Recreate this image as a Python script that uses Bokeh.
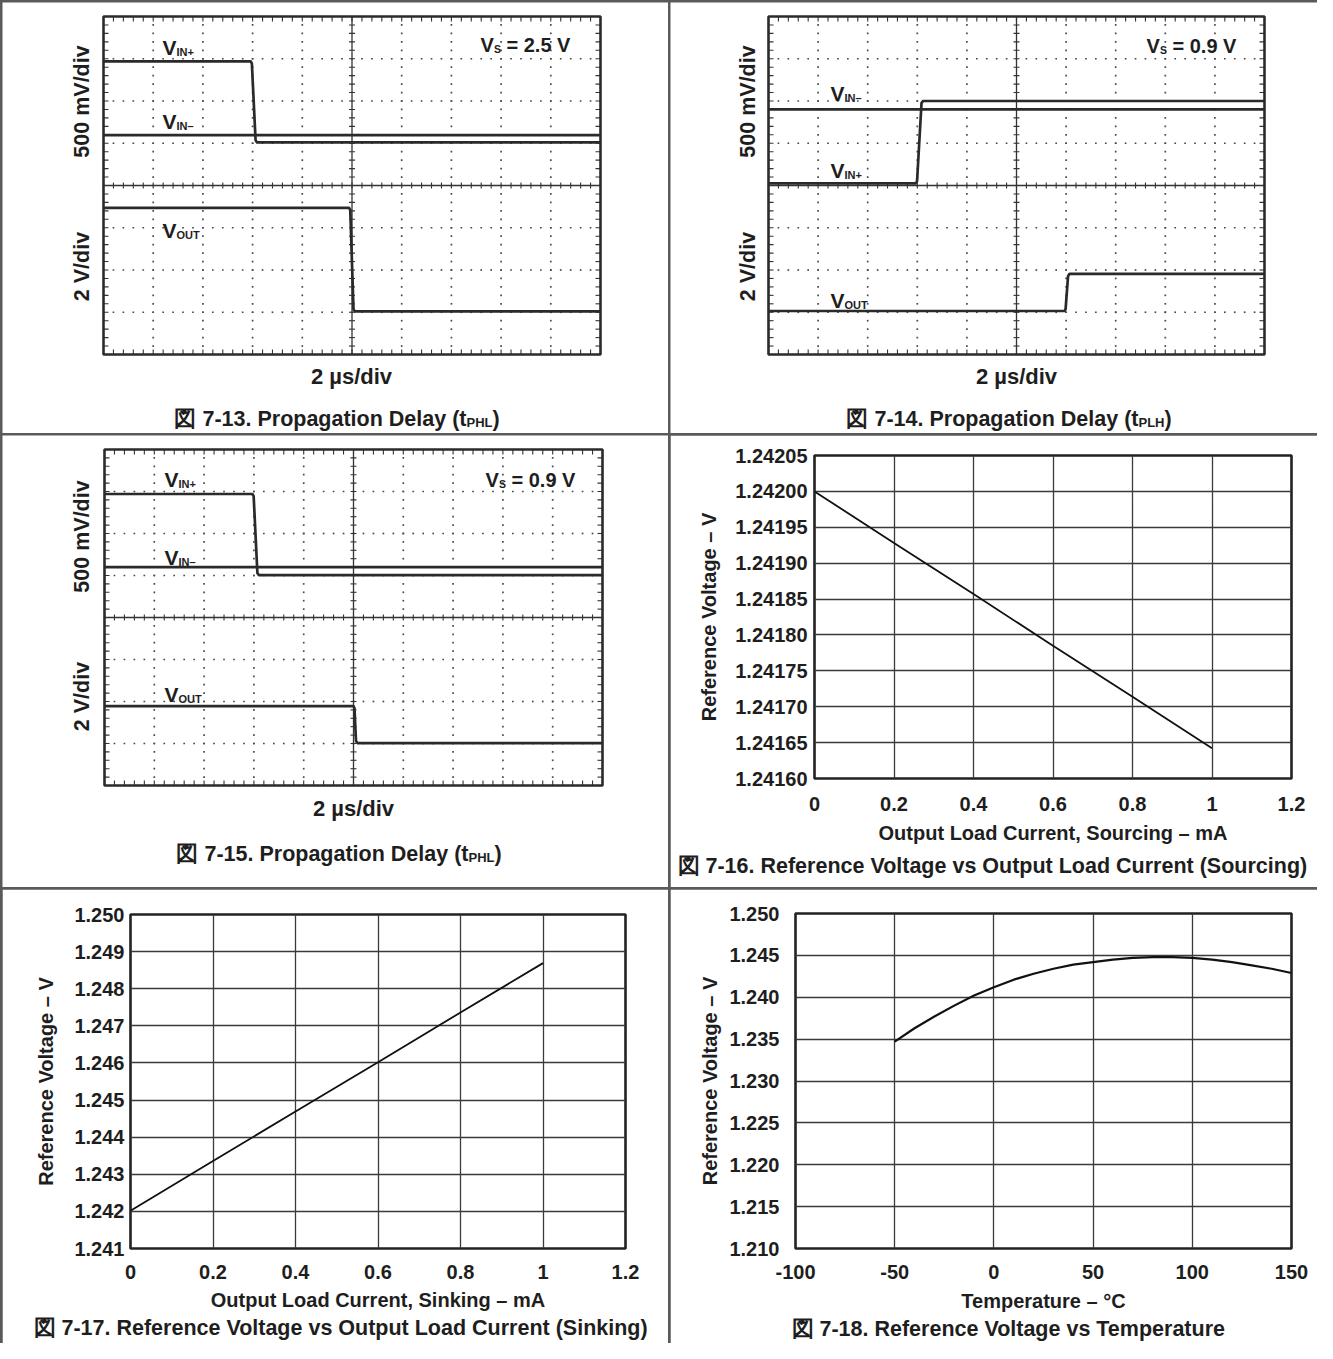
import math
from bokeh.plotting import figure
from bokeh.models import Range1d, FixedTicker, Label, Title
from bokeh.layouts import row, column
from bokeh.embed import file_html
from bokeh.resources import INLINE

FONT = "Liberation Sans"
INK = "#1e1e1e"
TRACE = "#2a2a2a"
GRAT = "#333333"

# ===================== DATA =====================
# Oscilloscope captures: time in µs (2 µs/div, 10 div); level in screen divisions (8 div, centre line = 0)
scope_time_ticks = [0, 2, 4, 6, 8, 10, 12, 14, 16, 18, 20]
scope_div_ticks = [-4, -3, -2, -1, 0, 1, 2, 3, 4]

f13_vinp_t = [0.0, 5.92, 5.97, 6.12, 6.18, 20.0]
f13_vinp_d = [2.94, 2.94, 2.89, 1.07, 1.02, 1.02]
f13_vinn_t = [0.0, 20.0]
f13_vinn_d = [1.19, 1.19]
f13_vout_t = [0.0, 9.88, 9.93, 10.06, 10.12, 20.0]
f13_vout_d = [-0.53, -0.53, -0.58, -2.93, -2.98, -2.98]

f14_vinp_t = [0.0, 5.94, 5.99, 6.17, 6.23, 20.0]
f14_vinp_d = [0.05, 0.05, 0.10, 1.95, 2.00, 2.00]
f14_vinn_t = [0.0, 20.0]
f14_vinn_d = [1.80, 1.80]
f14_vout_t = [0.0, 11.94, 11.98, 12.08, 12.14, 20.0]
f14_vout_d = [-2.97, -2.97, -2.92, -2.14, -2.09, -2.09]

f15_vinp_t = [0.0, 5.94, 5.99, 6.14, 6.20, 20.0]
f15_vinp_d = [2.94, 2.94, 2.89, 1.06, 1.01, 1.01]
f15_vinn_t = [0.0, 20.0]
f15_vinn_d = [1.20, 1.20]
f15_vout_t = [0.0, 10.00, 10.04, 10.10, 10.16, 20.0]
f15_vout_d = [-2.11, -2.11, -2.16, -2.94, -2.99, -2.99]

# Reference voltage vs load current (sourcing / sinking) and vs temperature
src_current_ma = [0.0, 0.2, 0.4, 0.6, 0.8, 1.0]
src_vref = [1.24200, 1.241928, 1.241857, 1.241785, 1.241714, 1.241642]
snk_current_ma = [0.0, 0.2, 0.4, 0.6, 0.8, 1.0]
snk_vref = [1.24202, 1.24336, 1.24469, 1.24602, 1.24736, 1.24869]
temp_c = [-50, -40, -30, -20, -10, 0, 10, 20, 30, 40, 50, 60, 70, 80, 90, 100, 110, 120, 130, 140, 150]
temp_vref = [1.2347, 1.2363, 1.2377, 1.2390, 1.2402, 1.2412, 1.2421, 1.2428, 1.2434, 1.2439, 1.2442,
             1.2445, 1.2447, 1.2448, 1.2448, 1.2447, 1.2445, 1.2442, 1.2438, 1.2434, 1.2429]

cur_ticks = [0.0, 0.2, 0.4, 0.6, 0.8, 1.0, 1.2]
cur_tick_labels = ["0", "0.2", "0.4", "0.6", "0.8", "1", "1.2"]
src_v_ticks = [1.24160, 1.24165, 1.24170, 1.24175, 1.24180, 1.24185, 1.24190, 1.24195, 1.24200, 1.24205]
src_v_tick_labels = ["1.24160", "1.24165", "1.24170", "1.24175", "1.24180", "1.24185", "1.24190",
                     "1.24195", "1.24200", "1.24205"]
snk_v_ticks = [1.241, 1.242, 1.243, 1.244, 1.245, 1.246, 1.247, 1.248, 1.249, 1.250]
snk_v_tick_labels = ["1.241", "1.242", "1.243", "1.244", "1.245", "1.246", "1.247", "1.248", "1.249", "1.250"]
temp_ticks = [-100, -50, 0, 50, 100, 150]
temp_tick_labels = ["-100", "-50", "0", "50", "100", "150"]
tv_ticks = [1.210, 1.215, 1.220, 1.225, 1.230, 1.235, 1.240, 1.245, 1.250]
tv_tick_labels = ["1.210", "1.215", "1.220", "1.225", "1.230", "1.235", "1.240", "1.245", "1.250"]


# ===================== HELPERS =====================
def txt(p, gx, gy, px, py, s, size, align="left", baseline="alphabetic", angle=0.0):
    p.add_layout(Label(x=gx(px), y=gy(py), text=s, text_font=FONT, text_font_size=size,
                       text_font_style="bold", text_color=INK, text_align=align,
                       text_baseline=baseline, angle=angle))


def scope_cell(origin, size, frame):
    """A scope screenshot cell: the graticule spans 0..20 µs and -4..4 div."""
    ox, oy = origin
    w, h = size
    fx0, fy0, fx1, fy1 = frame
    t0, t1 = scope_time_ticks[0], scope_time_ticks[-1]
    d0, d1 = scope_div_ticks[0], scope_div_ticks[-1]
    ux = (t1 - t0) / (fx1 - fx0)
    uy = (d1 - d0) / (fy1 - fy0)

    def gx(px):
        return t0 + (px - fx0) * ux

    def gy(py):
        return d1 - (py - fy0) * uy

    p = figure(width=w, height=h, x_range=Range1d(gx(ox), gx(ox + w)),
               y_range=Range1d(gy(oy + h), gy(oy)),
               x_axis_type=None, y_axis_type=None, output_backend="svg", toolbar_location=None,
               min_border=0, min_border_left=0, min_border_right=0, min_border_top=0,
               min_border_bottom=0)
    p.outline_line_color = None

    minor_t = [round(t0 + i * 0.4, 3) for i in range(51)]
    minor_d = [round(d0 + i * 0.2, 3) for i in range(41)]
    # dotted graticule
    dx, dy = [], []
    for t in scope_time_ticks[1:-1]:
        if t == 10:
            continue
        for d in minor_d[1:-1]:
            dx.append(t)
            dy.append(d)
    for d in scope_div_ticks[1:-1]:
        if d == 0:
            continue
        for t in minor_t[1:-1]:
            dx.append(t)
            dy.append(d)
    p.scatter(dx, dy, marker="square", size=1.7, fill_color="#4a4a4a", line_color=None)
    # edge ticks (5 px inwards)
    tl_x, tl_y = 5 * ux, 5 * uy
    sx0, sy0, sx1, sy1 = [], [], [], []
    for t in minor_t:
        sx0 += [t, t]
        sx1 += [t, t]
        sy0 += [d0, d1]
        sy1 += [d0 + tl_y, d1 - tl_y]
    for d in minor_d:
        sx0 += [t0, t1]
        sx1 += [t0 + tl_x, t1 - tl_x]
        sy0 += [d, d]
        sy1 += [d, d]
    p.segment(sx0, sy0, sx1, sy1, line_color=GRAT, line_width=1.1)
    # centre cross with ticks
    p.segment([t0, 10], [0, d0], [t1, 10], [0, d1], line_color=GRAT, line_width=1.3)
    p.scatter(minor_t, [0] * len(minor_t), marker="dash", size=6, angle=math.pi / 2,
              line_color=GRAT, line_width=1.1)
    p.scatter([10] * len(minor_d), minor_d, marker="dash", size=6, angle=0,
              line_color=GRAT, line_width=1.1)
    # screen frame
    p.quad(left=[t0], right=[t1], bottom=[d0], top=[d1], fill_color=None,
           line_color="#2b2b2b", line_width=2.6)
    return p, gx, gy


def trace(p, t, d):
    p.line(t, d, line_color=TRACE, line_width=2.7, line_join="round")


def vlabel(p, gx, gy, x, y, sub):
    txt(p, gx, gy, x, y, "V", "21px")
    txt(p, gx, gy, x + 14, y + 4, sub, "11px")


def vs_label(p, gx, gy, x, y, val):
    txt(p, gx, gy, x, y, "V", "20px")
    txt(p, gx, gy, x + 13.5, y + 4, "S", "10.5px")
    txt(p, gx, gy, x + 26, y, val, "20px")


def scope_axes_text(p, gx, gy, xl, y_up, y_dn, cx, cy):
    txt(p, gx, gy, xl, y_up, "500 mV/div", "21.5px", align="center", baseline="middle", angle=math.pi / 2)
    txt(p, gx, gy, xl, y_dn, "2 V/div", "21.5px", align="center", baseline="middle", angle=math.pi / 2)
    txt(p, gx, gy, cx, cy, "2 µs/div", "22px", align="center", baseline="middle")


def caption_sub(p, gx, gy, main, sub, sub_x, close_x, base_y):
    txt(p, gx, gy, sub_x, base_y, main, "21.5px", align="right")
    txt(p, gx, gy, sub_x, base_y + 4, sub, "13px")
    txt(p, gx, gy, close_x, base_y, ")", "21.5px")


def line_cell(origin, size, frame, xr, yr, xt, xtl, yt, ytl, xlab, ylab,
              xstand, ystand, xlstand, ylstand, xs, ys, lw, cap, cap_left, cap_standoff):
    ox, oy = origin
    w, h = size
    fx0, fy0, fx1, fy1 = frame
    p = figure(width=w, height=h, x_range=Range1d(*xr), y_range=Range1d(*yr),
               output_backend="svg", toolbar_location=None,
               min_border_left=int(fx0 - ox), min_border_right=int(w - (fx1 - ox)),
               min_border_top=int(fy0 - oy), min_border_bottom=int(h - (fy1 - oy)))
    p.outline_line_color = "#222222"
    p.outline_line_width = 2.6
    p.xaxis.ticker = FixedTicker(ticks=xt, minor_ticks=[])
    p.yaxis.ticker = FixedTicker(ticks=yt, minor_ticks=[])
    p.xaxis.major_label_overrides = dict(zip(xt, xtl))
    p.yaxis.major_label_overrides = dict(zip(yt, ytl))
    p.xgrid.ticker = FixedTicker(ticks=xt, minor_ticks=[])
    p.ygrid.ticker = FixedTicker(ticks=yt, minor_ticks=[])
    for g in (p.xgrid, p.ygrid):
        g.grid_line_color = "#3a3a3a"
        g.grid_line_width = 1.3
    for ax in (p.xaxis, p.yaxis):
        ax.axis_line_color = None
        ax.major_tick_line_color = None
        ax.major_tick_in = 0
        ax.major_tick_out = 0
        ax.minor_tick_line_color = None
        ax.minor_tick_in = 0
        ax.minor_tick_out = 0
        ax.major_label_text_font = FONT
        ax.major_label_text_font_size = "20px"
        ax.major_label_text_font_style = "bold"
        ax.major_label_text_color = INK
        ax.axis_label_text_font = FONT
        ax.axis_label_text_font_size = "20px"
        ax.axis_label_text_font_style = "bold"
        ax.axis_label_text_color = INK
    p.xaxis.major_label_standoff = xstand
    p.yaxis.major_label_standoff = ystand
    p.xaxis.axis_label = xlab
    p.yaxis.axis_label = ylab
    p.xaxis.axis_label_standoff = xlstand
    p.yaxis.axis_label_standoff = ylstand
    p.line(xs, ys, line_color="#111111", line_width=lw)
    # figure caption below the axis
    p.add_layout(Title(text=cap, align="left", offset=cap_left - fx0, standoff=cap_standoff,
                       text_font=FONT, text_font_size="21.5px", text_font_style="bold",
                       text_color=INK), "below")
    return p


# ===================== FIGURE 7-13 =====================
p13, gx, gy = scope_cell((2, 2), (666, 431), (103, 16, 600, 354))
trace(p13, f13_vinn_t, f13_vinn_d)
trace(p13, f13_vinp_t, f13_vinp_d)
trace(p13, f13_vout_t, f13_vout_d)
vlabel(p13, gx, gy, 162, 47, "IN+")
vlabel(p13, gx, gy, 162, 121, "IN–")
vlabel(p13, gx, gy, 162, 230, "OUT")
vs_label(p13, gx, gy, 480, 44, "= 2.5 V")
scope_axes_text(p13, gx, gy, 81, 101, 266, 351, 376)
caption_sub(p13, gx, gy, "図 7-13. Propagation Delay (t", "PHL", 466, 492, 418)

# ===================== FIGURE 7-14 =====================
p14, gx, gy = scope_cell((670, 2), (647, 431), (768, 16, 1264, 354))
trace(p14, f14_vinn_t, f14_vinn_d)
trace(p14, f14_vinp_t, f14_vinp_d)
trace(p14, f14_vout_t, f14_vout_d)
vlabel(p14, gx, gy, 830, 93, "IN–")
vlabel(p14, gx, gy, 830, 170, "IN+")
vlabel(p14, gx, gy, 830, 300, "OUT")
vs_label(p14, gx, gy, 1146, 45, "= 0.9 V")
scope_axes_text(p14, gx, gy, 747, 101, 266, 1016, 376)
caption_sub(p14, gx, gy, "図 7-14. Propagation Delay (t", "PLH", 1138, 1164, 418)

# ===================== FIGURE 7-15 =====================
p15, gx, gy = scope_cell((2, 435), (666, 452), (104, 449, 602, 785))
trace(p15, f15_vinn_t, f15_vinn_d)
trace(p15, f15_vinp_t, f15_vinp_d)
trace(p15, f15_vout_t, f15_vout_d)
vlabel(p15, gx, gy, 164, 479, "IN+")
vlabel(p15, gx, gy, 164, 557, "IN–")
vlabel(p15, gx, gy, 164, 694, "OUT")
vs_label(p15, gx, gy, 485, 479, "= 0.9 V")
scope_axes_text(p15, gx, gy, 81, 536, 696, 353, 808)
caption_sub(p15, gx, gy, "図 7-15. Propagation Delay (t", "PHL", 468, 494, 853)

# ===================== FIGURE 7-16 =====================
p16 = line_cell((670, 435), (647, 452), (814, 455, 1291, 778), (0, 1.2), (1.2416, 1.24205),
                cur_ticks, cur_tick_labels, src_v_ticks, src_v_tick_labels,
                "Output Load Current, Sourcing – mA", "Reference Voltage – V",
                18, 7, 8, 12, src_current_ma, src_vref, 1.8,
                "図 7-16. Reference Voltage vs Output Load Current (Sourcing)", 677, 10)

# ===================== FIGURE 7-17 =====================
p17 = line_cell((2, 889), (666, 454), (130, 914, 625, 1248), (0, 1.2), (1.241, 1.250),
                cur_ticks, cur_tick_labels, snk_v_ticks, snk_v_tick_labels,
                "Output Load Current, Sinking – mA", "Reference Voltage – V",
                16, 6, 7, 14, snk_current_ma, snk_vref, 1.8,
                "図 7-17. Reference Voltage vs Output Load Current (Sinking)", 33, 0)

# ===================== FIGURE 7-18 =====================
p18 = line_cell((670, 889), (647, 454), (795, 913, 1291, 1248), (-100, 150), (1.210, 1.250),
                temp_ticks, temp_tick_labels, tv_ticks, tv_tick_labels,
                "Temperature – °C", "Reference Voltage – V",
                16, 16, 8, 5, temp_c, temp_vref, 2.2,
                "図 7-18. Reference Voltage vs Temperature", 791, 0)

# ===================== LAYOUT =====================
# each cell is wrapped in its own column so that Bokeh does not align the frames across a row
grid = column(
    row(column(p13), column(p14), spacing=2),
    row(column(p15), column(p16), spacing=2),
    row(column(p17), column(p18), spacing=2),
    spacing=2,
    styles={"background-color": "#5a5a5a", "padding-top": "2px", "padding-left": "2px"},
)

open("out.html", "w").write(file_html(grid, INLINE))
